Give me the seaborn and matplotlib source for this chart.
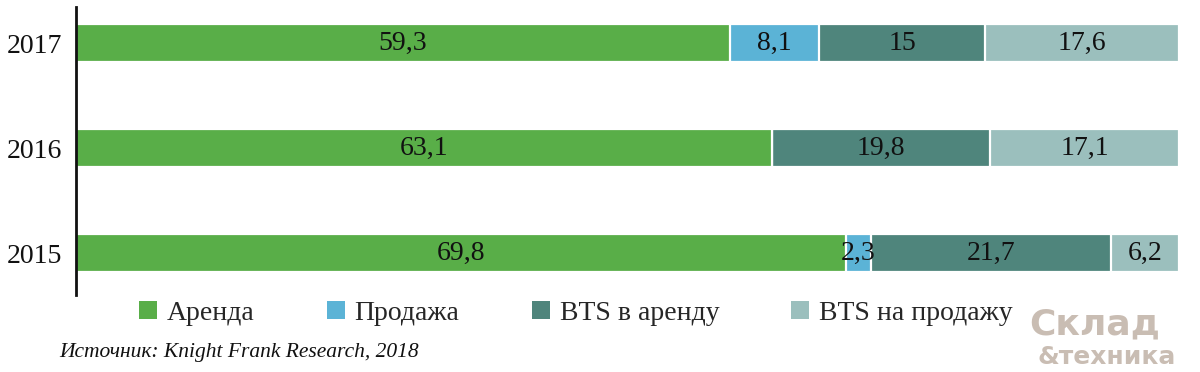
import matplotlib
matplotlib.use("Agg")
import matplotlib.pyplot as plt
import matplotlib.patches as mpatches
import numpy as np
import pandas as pd
import seaborn as sns

# данные диаграммы
years = ["2017", "2016", "2015"]
series = ["Аренда", "Продажа", "BTS в аренду", "BTS на продажу"]
arenda = [59.3, 63.1, 69.8]
prodazha = [8.1, 0.0, 2.3]
bts_arenda = [15.0, 19.8, 21.7]
bts_prodazha = [17.6, 17.1, 6.2]
colors = ["#59AE48", "#5BB3D6", "#4F857C", "#9BBFBD"]
source = "Источник: Knight Frank Research, 2018"

sns.set_theme(style="white")
plt.rcParams["font.family"] = ["Liberation Serif", "DejaVu Serif"]

df = pd.DataFrame({"year": years, series[0]: arenda, series[1]: prodazha,
                   series[2]: bts_arenda, series[3]: bts_prodazha})
cum = df[series].cumsum(axis=1)

fig = plt.figure(figsize=(12, 3.72), dpi=100)
ax = fig.add_axes([0.0633, 0.207, 0.9192, 0.774])

# накопленные полосы: от самой длинной к самой короткой
for s, c in reversed(list(zip(series, colors))):
    sns.barplot(x=cum[s], y=df["year"], order=years, color=c, orient="h",
                width=0.37, edgecolor="white", linewidth=1.6, ax=ax,
                saturation=1)

# подписи значений
for i, yr in enumerate(years):
    left = 0.0
    for s in series:
        v = df.loc[i, s]
        if v > 0:
            lbl = f"{v:g}".replace(".", ",")
            ax.text(left + v / 2, i, lbl, ha="center", va="center",
                    fontsize=20, color="#111111")
        left += v

ax.set_xlim(0, 100)
ax.set_ylim(2.4, -0.343)
ax.set_xlabel("")
ax.set_ylabel("")
ax.set_xticks([])
ax.tick_params(axis="y", length=0, pad=10, labelsize=20, labelcolor="#111111")
for sp in ["top", "right", "bottom"]:
    ax.spines[sp].set_visible(False)
ax.spines["left"].set_color("#111111")
ax.spines["left"].set_linewidth(2.0)

handles = [mpatches.Patch(facecolor=c, edgecolor="none", label=s)
           for s, c in zip(series, colors)]
fig.legend(handles=handles, loc="center", bbox_to_anchor=(0.48, 0.158),
           ncol=4, frameon=False, fontsize=20, handlelength=0.65,
           handleheight=0.65, handletextpad=0.35, columnspacing=2.6)

fig.text(0.049, 0.053, source, fontsize=15.5, style="italic",
         color="#111111", va="center", ha="left")

# водяной знак
fig.text(0.912, 0.128, "Склад", fontsize=26, fontweight="bold",
         color="#C4B6AB", ha="center", va="center", family="DejaVu Sans",
         alpha=0.9, zorder=0)
fig.text(0.922, 0.04, "&техника", fontsize=18, fontweight="bold",
         color="#C4B6AB", ha="center", va="center", family="DejaVu Sans",
         alpha=0.9, zorder=0)

fig.savefig("out.png", dpi=100)
